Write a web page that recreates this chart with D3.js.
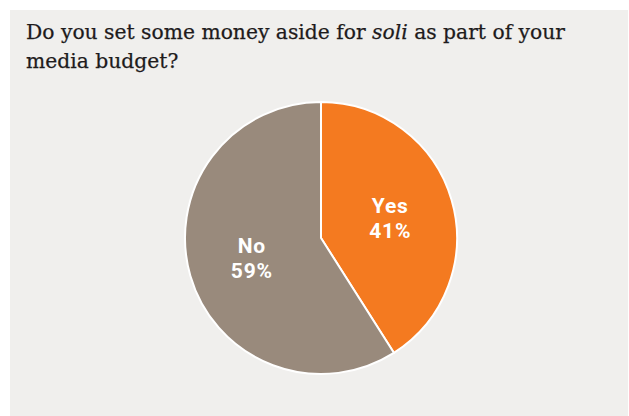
<!DOCTYPE html>
<html>
<head>
<meta charset="utf-8">
<script src="https://cdn.jsdelivr.net/npm/d3@7"></script>
<style>
  html, body { margin: 0; padding: 0; background: #ffffff; }
  svg { display: block; }
</style>
</head>
<body>
<svg id="chart" width="629" height="416"></svg>
<script>
// Survey answers
const categories = ["Yes", "No"];
const shares = [41, 59];
const colors = ["#f47a20", "#998a7c"];

const svg = d3.select("#chart");
const W = 629, H = 416;

// Panel background
svg.append("rect")
  .attr("x", 10).attr("y", 10)
  .attr("width", W - 11).attr("height", H - 10)
  .attr("fill", "#f0efed");

// Title (two lines, with "soli" in italics)
const title = svg.append("text")
  .attr("font-family", "'DejaVu Serif', serif")
  .attr("font-size", 20.3)
  .attr("fill", "#1e1b1c")
  .attr("stroke", "#1e1b1c")
  .attr("stroke-width", 0.25);
const l1 = title.append("tspan").attr("x", 26).attr("y", 39);
l1.append("tspan").text("Do you set some money aside for ");
l1.append("tspan").attr("font-style", "italic").text("soli");
l1.append("tspan").text(" as part of your");
title.append("tspan").attr("x", 26).attr("y", 68).text("media budget?");

// Pie
const cx = 321, cy = 238, r = 136;
const data = categories.map((c, i) => ({ label: c, value: shares[i], color: colors[i] }));
const pie = d3.pie().value(d => d.value).sort(null);
const arc = d3.arc().innerRadius(0).outerRadius(r);
const labelArc = d3.arc().innerRadius(r * 0.53).outerRadius(r * 0.53);

const g = svg.append("g").attr("transform", `translate(${cx},${cy})`);
const arcs = pie(data);

g.selectAll("path.slice")
  .data(arcs)
  .join("path")
  .attr("class", "slice")
  .attr("d", arc)
  .attr("fill", d => d.data.color)
  .attr("stroke", "#ffffff")
  .attr("stroke-width", 2)
  .attr("stroke-linejoin", "round");

// Slice labels: category name above, percentage below
const labelStyle = sel => sel
  .attr("text-anchor", "middle")
  .attr("font-family", "Roboto, sans-serif")
  .attr("font-weight", 700)
  .attr("font-size", 21)
  .attr("letter-spacing", 0.8)
  .attr("fill", "#ffffff");

g.selectAll("text.name")
  .data(arcs)
  .join("text")
  .attr("class", "name")
  .attr("x", d => labelArc.centroid(d)[0])
  .attr("y", d => labelArc.centroid(d)[1] - 5)
  .call(labelStyle)
  .text(d => d.data.label);

g.selectAll("text.pct")
  .data(arcs)
  .join("text")
  .attr("class", "pct")
  .attr("x", d => labelArc.centroid(d)[0])
  .attr("y", d => labelArc.centroid(d)[1] + 20)
  .call(labelStyle)
  .text(d => d.data.value + "%");
</script>
</body>
</html>
